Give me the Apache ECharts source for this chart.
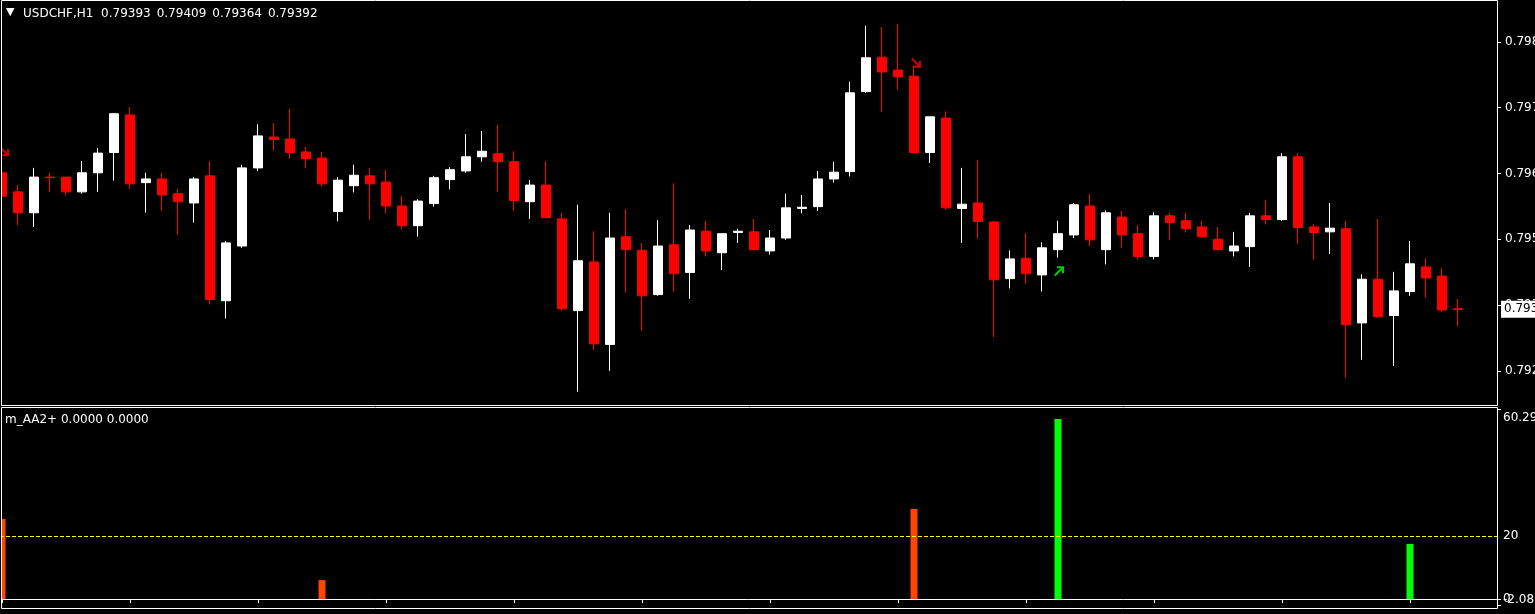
<!DOCTYPE html>
<html>
<head>
<meta charset="utf-8">
<script src="https://cdn.jsdelivr.net/npm/echarts@6/dist/echarts.min.js"></script>
<style>
html,body{margin:0;padding:0;background:#000;}
#c{width:1535px;height:614px;}
</style>
</head>
<body>
<div id="c"></div>
<script>
// ---------- data ----------
const symbolName = 'USDCHF,H1';
const indicatorName = 'm_AA2+ 0.0000 0.0000';

const open  = [0.79614,0.79583,0.79549,0.79607,0.79607,0.79583,0.79614,0.79647,0.79708,0.79598,
               0.79604,0.79580,0.79565,0.79609,0.79406,0.79495,0.79622,0.79672,0.79669,0.79648,
               0.79638,0.79551,0.79593,0.79609,0.79599,0.79560,0.79528,0.79564,0.79603,0.79617,
               0.79640,0.79645,0.79632,0.79567,0.79594,0.79539,0.79390,0.79469,0.79335,0.79510,
               0.79488,0.79416,0.79497,0.79452,0.79519,0.79484,0.79517,0.79518,0.79487,0.79508,
               0.79556,0.79559,0.79604,0.79616,0.79746,0.79802,0.79781,0.79771,0.79647,0.79703,
               0.79556,0.79565,0.79534,0.79442,0.79475,0.79448,0.79489,0.79513,0.79560,0.79489,
               0.79542,0.79515,0.79478,0.79544,0.79536,0.79526,0.79506,0.79487,0.79494,0.79544,
               0.79538,0.79640,0.79526,0.79518,0.79523,0.79370,0.79441,0.79382,0.79421,0.79461,
               0.79446,0.79393];
const high  = [0.79625,0.79594,0.79622,0.79614,0.79607,0.79633,0.79654,0.79711,0.79721,0.79614,
               0.79614,0.79588,0.79607,0.79633,0.79503,0.79627,0.79693,0.79695,0.79718,0.79656,
               0.79648,0.79607,0.79627,0.79622,0.79619,0.79576,0.79571,0.79609,0.79623,0.79677,
               0.79682,0.79692,0.79649,0.79602,0.79633,0.79549,0.79562,0.79519,0.79549,0.79555,
               0.79500,0.79537,0.79597,0.79529,0.79536,0.79515,0.79523,0.79539,0.79521,0.79580,
               0.79578,0.79617,0.79632,0.79762,0.79853,0.79851,0.79856,0.79789,0.79705,0.79714,
               0.79622,0.79635,0.79536,0.79488,0.79516,0.79501,0.79536,0.79565,0.79580,0.79553,
               0.79552,0.79529,0.79550,0.79549,0.79549,0.79536,0.79526,0.79518,0.79549,0.79570,
               0.79646,0.79646,0.79531,0.79565,0.79536,0.79449,0.79539,0.79453,0.79503,0.79475,
               0.79459,0.79409];
const low   = [0.79571,0.79529,0.79526,0.79583,0.79577,0.79580,0.79583,0.79601,0.79588,0.79549,
               0.79552,0.79513,0.79533,0.79400,0.79377,0.79492,0.79617,0.79650,0.79637,0.79621,
               0.79591,0.79535,0.79582,0.79538,0.79548,0.79522,0.79510,0.79559,0.79587,0.79614,
               0.79632,0.79583,0.79552,0.79539,0.79541,0.79390,0.79258,0.79326,0.79292,0.79419,
               0.79357,0.79414,0.79421,0.79409,0.79478,0.79456,0.79500,0.79489,0.79481,0.79505,
               0.79548,0.79552,0.79598,0.79608,0.79744,0.79713,0.79749,0.79647,0.79630,0.79554,
               0.79500,0.79507,0.79347,0.79426,0.79434,0.79421,0.79476,0.79508,0.79495,0.79465,
               0.79492,0.79473,0.79473,0.79505,0.79517,0.79508,0.79489,0.79478,0.79461,0.79530,
               0.79536,0.79499,0.79473,0.79482,0.79281,0.79310,0.79378,0.79300,0.79414,0.79411,
               0.79388,0.79364];
const close = [0.79576,0.79549,0.79607,0.79606,0.79583,0.79614,0.79646,0.79710,0.79596,0.79604,
               0.79578,0.79567,0.79604,0.79408,0.79500,0.79622,0.79674,0.79668,0.79647,0.79637,
               0.79596,0.79602,0.79610,0.79596,0.79560,0.79528,0.79568,0.79606,0.79619,0.79640,
               0.79649,0.79632,0.79569,0.79594,0.79541,0.79393,0.79471,0.79336,0.79508,0.79489,
               0.79414,0.79495,0.79450,0.79521,0.79487,0.79515,0.79519,0.79489,0.79508,0.79557,
               0.79558,0.79604,0.79615,0.79744,0.79801,0.79778,0.79770,0.79647,0.79705,0.79557,
               0.79563,0.79535,0.79440,0.79474,0.79450,0.79492,0.79515,0.79562,0.79505,0.79549,
               0.79513,0.79478,0.79544,0.79533,0.79523,0.79510,0.79489,0.79495,0.79544,0.79538,
               0.79640,0.79525,0.79517,0.79524,0.79367,0.79441,0.79380,0.79422,0.79466,0.79443,
               0.79391,0.79392];

const priceTicks = [0.79292, 0.79399, 0.79506, 0.79613, 0.79720, 0.79827];
const priceMin = 0.792365, priceMax = 0.798933;
const shiftBars = 2;           // empty chart-shift space on the right

const sellArrows = [[0, 0.79649], [57, 0.79793]];
const buyArrows  = [[66, 0.79454]];

const aaOrange = [[0, 25.4], [20, 6.0], [57, 28.6]];
const aaGreen  = [[66, 57.1], [88, 17.5]];
const aaLevel = 20;
const aaMax = 60.29, aaMin = -2.087;

// ---------- build ----------
const FONT = 'DejaVu Sans';
const cats = Array.from({length: open.length + shiftBars}, (_, i) => String(i));
const candles = open.map((o, i) => [o, close[i], low[i], high[i]]);
const last = open.length - 1;
const titleText = symbolName + '  ' +
  [open[last], high[last], low[last], close[last]].map(v => v.toFixed(5)).join('\u2002');

const downArrow = 'path://M0,1.5 L1.5,0 L8,6.5 L8,3 L10,3 L10,10 L3,10 L3,8 L6.5,8 Z';
const upArrow   = 'path://M0,8.5 L1.5,10 L8,3.5 L8,7 L10,7 L10,0 L3,0 L3,2 L6.5,2 Z';

const txt = (c) => ({color: c || '#fff', fontFamily: FONT, fontSize: 12, fontWeight: 'normal'});

function subAxis(labels, vAlign, fmt, ticks, pad) {
  return {
    type: 'value', gridIndex: 1, position: 'right', min: aaMin, max: aaMax,
    splitLine: {show: false}, axisLine: {show: false},
    axisTick: {show: !!ticks, customValues: ticks || [], length: 3, lineStyle: {color: '#fff'}},
    axisLabel: Object.assign({customValues: labels, verticalAlign: vAlign, formatter: fmt, margin: 5,
                              padding: pad || 0}, txt())
  };
}

const chart = echarts.init(document.getElementById('c'), null, {renderer: 'canvas'});
chart.setOption({
  backgroundColor: '#000',
  animation: false,
  title: [
    {text: '▼', left: 6, top: 7, padding: 0, textStyle: Object.assign(txt(), {fontSize: 11})},
    {text: titleText, left: 23, top: 8, padding: 0, textStyle: txt()},
    {text: indicatorName, left: 5, top: 414, padding: 0, textStyle: txt()}
  ],
  grid: [
    {left: -6, width: 1504, top: 1, height: 404, outerBoundsMode: 'none', containLabel: false},
    {left: -6, width: 1504, top: 409, height: 196.6, outerBoundsMode: 'none', containLabel: false}
  ],
  xAxis: [
    {type: 'category', gridIndex: 0, data: cats, show: false},
    {type: 'category', gridIndex: 1, data: cats, offset: 3,
     axisLine: {show: true, lineStyle: {color: '#fff', width: 1}},
     axisTick: {show: true, interval: 7, alignWithLabel: true, length: 4, lineStyle: {color: '#fff'}},
     axisLabel: {show: false}, splitLine: {show: false}}
  ],
  yAxis: [
    {type: 'value', gridIndex: 0, position: 'right', min: priceMin, max: priceMax,
     splitLine: {show: false}, axisLine: {show: false},
     axisTick: {show: true, customValues: priceTicks, length: 3, lineStyle: {color: '#fff'}},
     axisLabel: Object.assign({customValues: priceTicks, formatter: v => v.toFixed(5), margin: 7}, txt())},
    subAxis([aaLevel], 'middle', v => String(v), [aaMax, 0, aaMin]),
    subAxis([aaMax], 'top', v => v.toFixed(2), null, [3, 0, 0, 0]),
    subAxis([aaMin], 'bottom', v => v.toFixed(3)),
    subAxis([0], 'middle', v => String(v)),
    // current price box
    {type: 'value', gridIndex: 0, position: 'right', min: priceMin, max: priceMax, z: 10,
     splitLine: {show: false}, axisLine: {show: false}, axisTick: {show: false},
     axisLabel: {customValues: [close[last]], formatter: v => v.toFixed(5), margin: 3,
                 color: '#000', backgroundColor: '#fff', padding: [3, 6, 2, 3],
                 fontFamily: FONT, fontSize: 12}}
  ],
  series: [
    {
      type: 'candlestick', xAxisIndex: 0, yAxisIndex: 0, data: candles,
      barWidth: 10,
      itemStyle: {color: '#ffffff', color0: '#ff0000', borderColor: '#ffffff', borderColor0: '#ff0000', borderWidth: 1}
    },
    {type: 'scatter', xAxisIndex: 0, yAxisIndex: 0, data: sellArrows, symbol: downArrow,
     symbolSize: [10, 10], symbolOffset: [2, 0], itemStyle: {color: '#ff0000'}, silent: true},
    {type: 'scatter', xAxisIndex: 0, yAxisIndex: 0, data: buyArrows, symbol: upArrow,
     symbolSize: [10, 10], symbolOffset: [1, 0], itemStyle: {color: '#00ff00'}, silent: true},
    {
      type: 'bar', xAxisIndex: 1, yAxisIndex: 1, data: aaOrange, barWidth: 7, barGap: '-100%',
      itemStyle: {color: '#ff4500'},
      markLine: {
        silent: true, symbol: 'none', animation: false,
        lineStyle: {color: '#ffff00', type: [4, 2], width: 1},
        label: {show: false},
        data: [{yAxis: aaLevel}]
      }
    },
    {type: 'bar', xAxisIndex: 1, yAxisIndex: 1, data: aaGreen, barWidth: 7, barGap: '-100%',
     itemStyle: {color: '#00ff00'}}
  ],
  graphic: [
    {type: 'rect', z: 100, shape: {x: 0, y: 0, width: 1, height: 614}, style: {fill: '#000'}},
    {type: 'rect', z: 101, shape: {x: 1.5, y: 0.5, width: 1496, height: 405},
     style: {fill: null, stroke: '#fff', lineWidth: 1}},
    {type: 'rect', z: 101, shape: {x: 1.5, y: 407.5, width: 1496, height: 201},
     style: {fill: null, stroke: '#fff', lineWidth: 1}}
  ]
});
</script>
</body>
</html>
